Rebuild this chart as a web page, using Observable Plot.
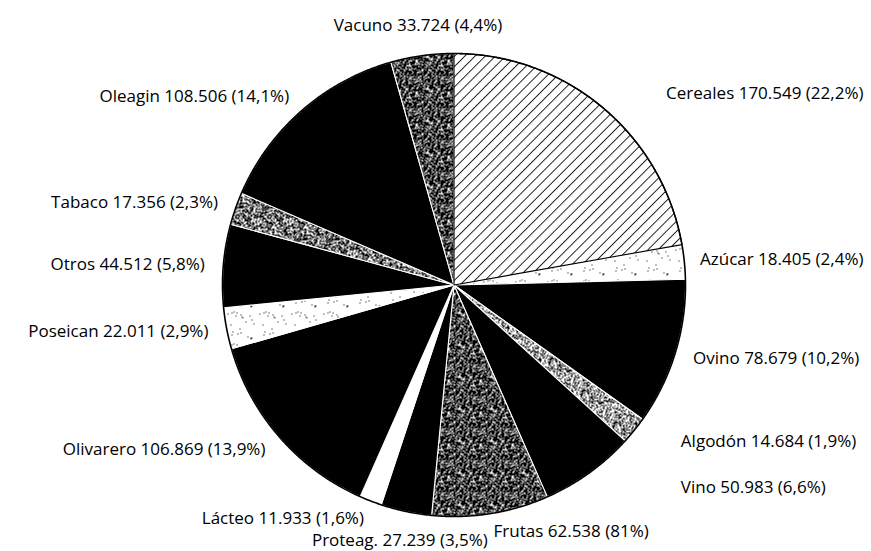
<!DOCTYPE html>
<html><head><meta charset="utf-8">
<script src="https://cdn.jsdelivr.net/npm/d3@7"></script>
<script src="https://cdn.jsdelivr.net/npm/@observablehq/plot@0.6"></script>
<style>body{margin:0;background:#fff;} svg{display:block;}</style>
</head><body><div id="chart"></div>
<script>
// ---- data (clockwise from 12 o'clock) ----
const categories = ["Cereales","Azúcar","Ovino","Algodón","Vino","Frutas","Proteag.","Lácteo","Olivarero","Poseican","Otros","Tabaco","Oleagin","Vacuno"];
const values = [170549,18405,78679,14684,50983,62538,27239,11933,106869,22011,44512,17356,108506,33724];
const shares = ["22,2%","2,4%","10,2%","1,9%","6,6%","81%","3,5%","1,6%","13,9%","2,9%","5,8%","2,3%","14,1%","4,4%"];

// ---- styles ----
const textures = {
  "Cereales":"url(#hatch)", "Azúcar":"url(#dotsLight)", "Ovino":"#000", "Algodón":"url(#dotsMidLight)",
  "Vino":"#000", "Frutas":"url(#dotsDark)", "Proteag.":"#000", "Lácteo":"#fff", "Olivarero":"#000",
  "Poseican":"url(#dotsLight)", "Otros":"#000", "Tabaco":"url(#dotsMid)", "Oleagin":"#000", "Vacuno":"url(#dotsDark)"
};
const outlines = {"Cereales":"#000"};
const W = 871, H = 551, mL = 222, mR = 186, mT = 53, mB = 35;
const FONT = 17, FAMILY = "Open Sans";
const k = (W - mL - mR) / 2; // pixels per pie-radius unit

const es = d3.formatLocale({decimal:",", thousands:".", grouping:[3], currency:["","€"]});
const fmt = es.format(",d");

const table = categories.map((c,i)=>({name:c, value:values[i], share:shares[i]}));
const arcs = d3.pie().sort(null).value(d=>d.value)(table);

const rad = Math.PI/180;
function arcPoints(a0, a1, r){
  const n = Math.max(2, Math.ceil((a1-a0)/(0.4*rad)));
  const pts = [];
  for(let j=0;j<=n;j++){ const t=a0+(a1-a0)*j/n; pts.push([r*Math.sin(t), r*Math.cos(t)]); }
  return pts;
}
const slices = arcs.map(a=>({
  type:"Feature",
  properties:{name:a.data.name, fill:textures[a.data.name], stroke:outlines[a.data.name]||"#fff"},
  geometry:{type:"Polygon", coordinates:[[[0,0], ...arcPoints(a.startAngle,a.endAngle,1), [0,0]]]}
})).sort((p,q)=>(p.properties.stroke==="#000")-(q.properties.stroke==="#000"));
const rim = {type:"Feature", properties:{}, geometry:{type:"LineString", coordinates:arcPoints(0, 2*Math.PI, 1)}};
const frame = {type:"Polygon", coordinates:[[[-1,-1],[1,-1],[1,1],[-1,1],[-1,-1]]]};

// ---- label layout (derived from slice angles) ----
const ctx = document.createElement("canvas").getContext("2d");
ctx.font = `${FONT}px "${FAMILY}"`;
const xMaxUnits = (W - 8 - mL)/k - 1;
const labels = arcs.map(a=>{
  const m=(a.startAngle+a.endAngle)/2, s=Math.sin(m), c=Math.cos(m);
  const text = `${a.data.name} ${fmt(a.data.value)} (${a.data.share})`;
  const w = ctx.measureText(text).width / k, h = FONT*1.1 / k;
  const anchor = s>0.1?"start":(s<-0.25?"end":"middle");
  const r = anchor==="middle" ? 1.13 : 1.08;
  let x = r*s, y = r*c;
  if(anchor==="start" && Math.abs(c)<0.9) x = Math.max(x, 0.98);
  if(anchor==="start") x = Math.min(x, xMaxUnits - w);
  return {x, y, anchor, text, w, h, s};
});
function box(d){ const x0 = d.anchor==="start"?d.x:(d.anchor==="end"?d.x-d.w:d.x-d.w/2); return [x0, x0+d.w, d.y-d.h/2, d.y+d.h/2]; }
// push side labels horizontally away from any overlapping label
for(const d of labels){
  if(d.anchor==="middle") continue;
  for(const o of labels){
    if(o===d) continue;
    const [a0,a1,b0,b1]=box(d), [p0,p1,q0,q1]=box(o);
    if(a0<p1 && p0<a1 && b0<q1 && q0<b1){
      if(d.anchor==="start") d.x = p1 + 10/k; else d.x = p0 - 10/k;
    }
  }
}

const textOpts = {x:"x", y:"y", text:"text", fill:"#000", fontSize:FONT, fontFamily:FAMILY, lineAnchor:"middle"};

const svg = Plot.plot({
  width:W, height:H,
  marginLeft:mL, marginRight:mR, marginTop:mT, marginBottom:mB,
  projection:{type:"reflect-y", domain:frame, clip:false},
  color:{type:"identity"},
  marks:[
    Plot.geo(slices, {fill:d=>d.properties.fill, stroke:d=>d.properties.stroke, strokeWidth:1.1}),
    Plot.geo([rim], {fill:"none", stroke:"#000", strokeWidth:1.6}),
    Plot.text(labels.filter(d=>d.anchor==="start"), {...textOpts, textAnchor:"start"}),
    Plot.text(labels.filter(d=>d.anchor==="end"), {...textOpts, textAnchor:"end"}),
    Plot.text(labels.filter(d=>d.anchor==="middle"), {...textOpts, textAnchor:"middle"})
  ]
});

// ---- textures ----
function hash(i,j,s){
  let h = (Math.imul(i,374761393) + Math.imul(j,668265263) + Math.imul(s,1442695041))|0;
  h = Math.imul(h ^ (h>>>13), 1274126177); h ^= h>>>16;
  return (h>>>0)/4294967296;
}
const defs = d3.select(svg).insert("defs", ":first-child");
function speckle(id, bg, fg, p, seed, size=32){
  const pat = defs.append("pattern").attr("id",id).attr("patternUnits","userSpaceOnUse").attr("width",size).attr("height",size);
  pat.append("rect").attr("width",size).attr("height",size).attr("fill",bg);
  let d="";
  for(let i=0;i<size;i++) for(let j=0;j<size;j++) if(hash(i,j,seed)<p) d+=`M${i} ${j}h1v1h-1z`;
  pat.append("path").attr("d",d).attr("fill",fg).attr("shape-rendering","crispEdges");
}
speckle("dotsLight","#fff","#000",0.025,1);
speckle("dotsMidLight","#fff","#000",0.4,2);
speckle("dotsMid","#fff","#000",0.55,3);
speckle("dotsDark","#000","#fff",0.3,4);
const hatch = defs.append("pattern").attr("id","hatch").attr("patternUnits","userSpaceOnUse")
  .attr("width",7.2).attr("height",10).attr("patternTransform","rotate(45)");
hatch.append("rect").attr("width",7.2).attr("height",10).attr("fill","#fff");
hatch.append("line").attr("x1",0.5).attr("x2",0.5).attr("y1",0).attr("y2",10).attr("stroke","#000").attr("stroke-width",0.9);

document.getElementById("chart").appendChild(svg);
</script>
</body></html>
